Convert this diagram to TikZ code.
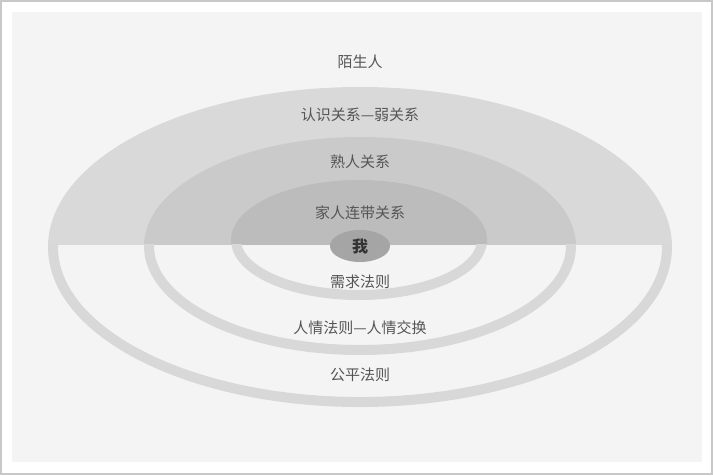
\documentclass[tikz,border=0pt]{standalone}
\usepackage{fontspec}
\newfontfamily\cjk{Noto Sans CJK SC}
\usepackage{tikz}
\definecolor{framegray}{RGB}{200, 200, 200}
\definecolor{paper}{RGB}{244, 244, 244}
\definecolor{ringgray}{RGB}{216, 216, 216}
\definecolor{outerfill}{RGB}{217, 217, 217}
\definecolor{midfill}{RGB}{202, 202, 202}
\definecolor{innerfill}{RGB}{188, 188, 188}
\definecolor{mefill}{RGB}{165, 165, 165}
\definecolor{textgray}{RGB}{85, 85, 85}

\begin{document}
\begin{tikzpicture}[x = 1pt, y = -1pt,
  label/.style = {font = \cjk\fontsize{15}{15}\selectfont, text = textgray, inner sep = 0pt}]

% frame and paper
\fill [white] (0, 0) rectangle (713, 475);
\draw [framegray, line width = 2pt] (1, 1) rectangle (712, 474);
\fill [paper] (12, 12) rectangle (702, 462);

% upper halves
\begin{scope}
\clip (0, 0) rectangle (713, 244);
\fill [outerfill] (360, 247) ellipse [x radius = 312, y radius = 160];
\fill [midfill] (360, 246) ellipse [x radius = 216, y radius = 109];
\fill [innerfill] (359, 240) ellipse [x radius = 128, y radius = 60];
\end{scope}

% lower rings
\begin{scope}
\clip (0, 244) rectangle (713, 475);
\draw [ringgray, line width = 10pt] (360, 247) ellipse [x radius = 307, y radius = 155];
\draw [ringgray, line width = 10pt] (360, 246) ellipse [x radius = 211, y radius = 104];
\draw [ringgray, line width = 10pt] (359, 240) ellipse [x radius = 123, y radius = 55];
\end{scope}

\fill [mefill] (360, 246) ellipse [x radius = 30, y radius = 16];

\node [label] (stranger) at (360, 62) {陌生人};
\node [label] (acquaint) at (360, 115) {认识关系—弱关系};
\node [label] (familiar) at (360, 162) {熟人关系};
\node [label] (family) at (360, 213) {家人连带关系};
\node [label, font = \cjk\bfseries\fontsize{16}{16}\selectfont, text = black!80] (me) at (360, 246) {我};
\node [label] (need) at (360, 282) {需求法则};
\node [label] (favour) at (360, 328) {人情法则—人情交换};
\node [label] (fair) at (360, 375) {公平法则};
\end{tikzpicture}
\end{document}
